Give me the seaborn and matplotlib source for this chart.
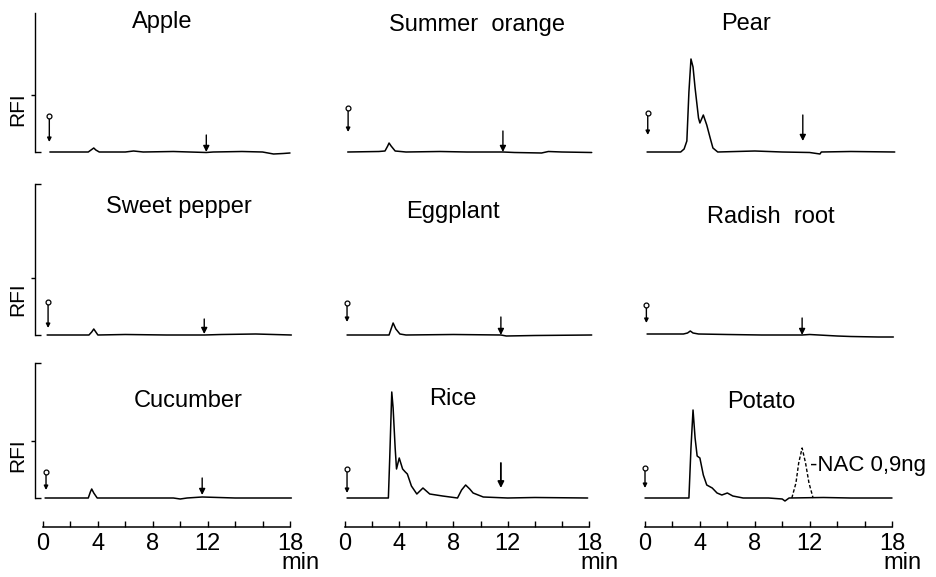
import numpy as np
import pandas as pd
import matplotlib
matplotlib.use("Agg")
import matplotlib.pyplot as plt
import seaborn as sns

# ---------------- data: retention time (min) and fluorescence (RFI, arbitrary units above baseline)
samples = ["Apple", "Summer  orange", "Pear",
           "Sweet pepper", "Eggplant", "Radish  root",
           "Cucumber", "Rice", "Potato"]

apple_t = [0.5, 3.3, 3.55, 3.7, 3.85, 4.1, 6.0, 6.6, 7.3, 9.5, 11.9, 12.4, 14.5, 16.0, 16.8, 17.5, 18.0]
apple_y = [0, 0, 2.5, 4, 2, 0, 0, 1, 0, 0.5, -0.5, 0, 0.5, 0, -2, -1.5, -1]

orange_t = [0.2, 2.5, 2.95, 3.15, 3.25, 3.4, 3.7, 4.5, 7.0, 9.0, 11.65, 12.5, 14.5, 15.0, 16.0, 18.2]
orange_y = [0, 0.5, 1, 6, 9, 6, 1, 0, 0.5, 0, 0, -0.5, -1, 0.5, 0, -0.5]

pear_t = [0.15, 2.6, 2.85, 3.05, 3.2, 3.35, 3.5, 3.65, 3.9, 4.0, 4.25, 4.5, 4.75, 4.95, 5.3,
          8.0, 10.0, 12.0, 12.75, 12.85, 15.0, 18.2]
pear_y = [0, 0, 3, 11, 60, 93, 85, 64, 34, 29, 37, 27, 14, 4, 0,
          1, 0, -0.5, -2, 0, 0.5, 0]

pepper_t = [0.3, 3.35, 3.55, 3.7, 3.85, 4.0, 6.0, 9.0, 11.75, 13.0, 15.5, 18.1]
pepper_y = [0, 0, 3, 6, 3, 0, 0.5, 0, 0, 0.5, 1, 0]

eggplant_t = [0.15, 3.25, 3.4, 3.55, 3.75, 4.05, 4.5, 8.0, 11.5, 11.9, 14.0, 18.2]
eggplant_y = [0, 0, 6, 12, 6, 1, 0, 0.5, 0, -1, -0.5, 0]

radish_t = [0.15, 2.8, 3.1, 3.3, 3.5, 3.9, 6.0, 8.5, 11.45, 12.0, 14.0, 15.0, 17.0, 18.1]
radish_y = [1, 1, 2, 4, 2, 1, 0.5, 0, 0, 0.5, -1, -1.5, -2, -2]

cucumber_t = [0.15, 3.3, 3.45, 3.55, 3.7, 3.95, 6.0, 9.5, 10.0, 10.5, 11.6, 14.0, 18.1]
cucumber_y = [0, 0, 6, 9, 5, 0, 0, 0, -1, 0, 1, 0, 0]

rice_t = [0.15, 3.2, 3.3, 3.45, 3.55, 3.7, 3.8, 4.0, 4.25, 4.45, 4.6, 4.9, 5.3, 5.75, 6.25,
          7.2, 8.3, 8.6, 8.9, 9.2, 9.45, 10.2, 12.0, 14.0, 17.9]
rice_y = [0, 0, 40, 106, 90, 50, 29, 40, 29, 26, 24, 12, 4, 10, 4,
          2, 0, 8, 13, 9, 5, 1, 0, 0.5, 0]

potato_t = [0.0, 3.2, 3.35, 3.5, 3.65, 3.8, 4.0, 4.25, 4.5, 4.9, 5.25, 5.6, 6.0, 6.4, 7.15,
            9.0, 10.0, 10.2, 10.5, 13.0, 15.0, 18.0]
potato_y = [0, 0, 50, 88, 60, 42, 40, 23, 13, 10, 5, 3, 5, 2, 0,
            0, -1, -3, 0, 0.5, 0, 0]

# NAC standard (0.9 ng) overlaid on potato, dashed
nac_t = [10.7, 11.0, 11.2, 11.45, 11.7, 11.95, 12.25]
nac_y = [0, 15, 35, 50, 35, 15, 0]
nac_label = "-NAC 0,9ng"

# injection marks: time, top, tip
inject_t = [0.46, 0.23, 0.2, 0.37, 0.15, 0.1, 0.22, 0.15, 0.0]
inject_top = [36, 44, 39, 33, 32, 30, 26, 29, 30]
inject_tip = [10, 20, 17, 7, 13, 12, 8, 5, 10]

# expected NAC retention arrows: time, top, tip (none for potato)
nac_arrow_t = [11.9, 11.65, 11.5, 11.75, 11.5, 11.45, 11.6, 11.5, None]
nac_arrow_top = [17, 21, 37, 16, 18, 17, 20, 35, None]
nac_arrow_tip = [0, 0, 11, 1, 0, 0, 3, 10, None]

tick_vals = list(range(0, 19, 2))
tick_labels = ["0", "", "4", "", "8", "", "12", "", "", "18"]

series = [(apple_t, apple_y), (orange_t, orange_y), (pear_t, pear_y),
          (pepper_t, pepper_y), (eggplant_t, eggplant_y), (radish_t, radish_y),
          (cucumber_t, cucumber_y), (rice_t, rice_y), (potato_t, potato_y)]

frames = []
for name, (t, y) in zip(samples, series):
    frames.append(pd.DataFrame({"sample": name, "time": t, "rfi": y}))
df = pd.concat(frames, ignore_index=True)
nac_df = pd.DataFrame({"time": nac_t, "rfi": nac_y})

# ---------------- style
sns.set_theme(style="white")
plt.rcParams["font.family"] = ["Liberation Sans", "DejaVu Sans"]

W, H = 937, 577
fig = plt.figure(figsize=(W / 100, H / 100), dpi=100)

col_px = [(43, 290), (345, 589), (645, 892)]       # x of t=0 and t=18
row_px = [(13, 152), (184, 335), (363, 498)]       # top, baseline


def fx(x):
    return x / W


def fy(y):
    return 1 - y / H


titles_pos = [(162, 28), (477, 31), (746, 30),
              (179, 213), (453, 218), (771, 223),
              (188, 407), (453, 405), (761, 408)]

axes = []
for r in range(3):
    top, base = row_px[r]
    for c in range(3):
        x0, x1 = col_px[c]
        ax = fig.add_axes([fx(x0), fy(base), (x1 - x0) / W, (base - top) / H])
        ax.set_xlim(0, 18)
        ax.set_ylim(0, base - top)
        ax.set_facecolor("none")
        for s in ["top", "right"]:
            ax.spines[s].set_visible(False)
        axes.append(ax)

for i, ax in enumerate(axes):
    r, c = divmod(i, 3)
    name = samples[i]
    sub = df[df["sample"] == name]
    sns.lineplot(data=sub, x="time", y="rfi", color="black", linewidth=1.1,
                 sort=False, estimator=None, ax=ax, legend=False)
    if name == "Potato":
        sns.lineplot(data=nac_df, x="time", y="rfi", color="black", linewidth=1.0,
                     linestyle=(0, (2.5, 1.5)), sort=False, estimator=None, ax=ax, legend=False)
        ax.text(12.0, 33, nac_label, fontsize=16, ha="left", va="center", color="black")
    for ln in ax.lines:
        ln.set_clip_on(False)

    # injection mark
    ax.annotate("", xy=(inject_t[i], inject_tip[i]), xytext=(inject_t[i], inject_top[i]),
                arrowprops=dict(arrowstyle="-|>", color="black", lw=1.0,
                                mutation_scale=6, shrinkA=2, shrinkB=0),
                annotation_clip=False)
    ax.plot([inject_t[i]], [inject_top[i]], marker="o", ms=3.5, mfc="white",
            mec="black", mew=0.9, clip_on=False, zorder=5)
    # NAC expected position arrow
    if nac_arrow_t[i] is not None:
        ax.annotate("", xy=(nac_arrow_t[i], nac_arrow_tip[i]),
                    xytext=(nac_arrow_t[i], nac_arrow_top[i]),
                    arrowprops=dict(arrowstyle="-|>", color="black",
                                    lw=1.3 if name == "Rice" else 1.0,
                                    mutation_scale=9, shrinkA=0, shrinkB=0),
                    annotation_clip=False)

    ax.set_xlabel("")
    ax.set_ylabel("")

    # left axis only in first column
    if c == 0:
        ax.spines["left"].set_visible(True)
        ax.spines["left"].set_color("black")
        ax.spines["left"].set_linewidth(1.0)
        ax.spines["left"].set_position(("outward", 5.8))
        top, base = row_px[r]
        ax.set_yticks([0, base - top] if r > 0 else [0])
        ax.set_yticks([57], minor=True)
        ax.tick_params(axis="y", which="major", direction="in", length=4, width=1,
                       color="black", labelleft=False, left=True)
        ax.tick_params(axis="y", which="minor", direction="out", length=3, width=1,
                       color="black", left=True)
    else:
        ax.spines["left"].set_visible(False)
        ax.set_yticks([])

    if r == 2:
        ax.spines["bottom"].set_visible(True)
        ax.spines["bottom"].set_color("black")
        ax.spines["bottom"].set_linewidth(1.1)
        ax.spines["bottom"].set_position(("outward", 21))
        ax.set_xticks(tick_vals)
        ax.set_xticklabels(tick_labels)
        ax.tick_params(axis="x", direction="in", length=4, width=1, color="black",
                       labelsize=17, pad=4, bottom=True, labelcolor="black")
        ax.text(1.0, -0.0, "", transform=ax.transAxes)
    else:
        ax.spines["bottom"].set_visible(False)
        ax.set_xticks([])

    tx, ty = titles_pos[i]
    fig.text(fx(tx), fy(ty), name, ha="center", va="baseline", fontsize=17, color="black")

# "min" units under each ruler
for c in range(3):
    x0, x1 = col_px[c]
    fig.text(fx(x1 + 11), fy(569), "min", ha="center", va="baseline", fontsize=17, color="black")

# RFI labels
for yc in [109, 299, 455]:
    fig.text(fx(18), fy(yc), "RFI", rotation=90, ha="center", va="center", fontsize=15, color="black")

fig.savefig("out.png", dpi=100, facecolor="white")
